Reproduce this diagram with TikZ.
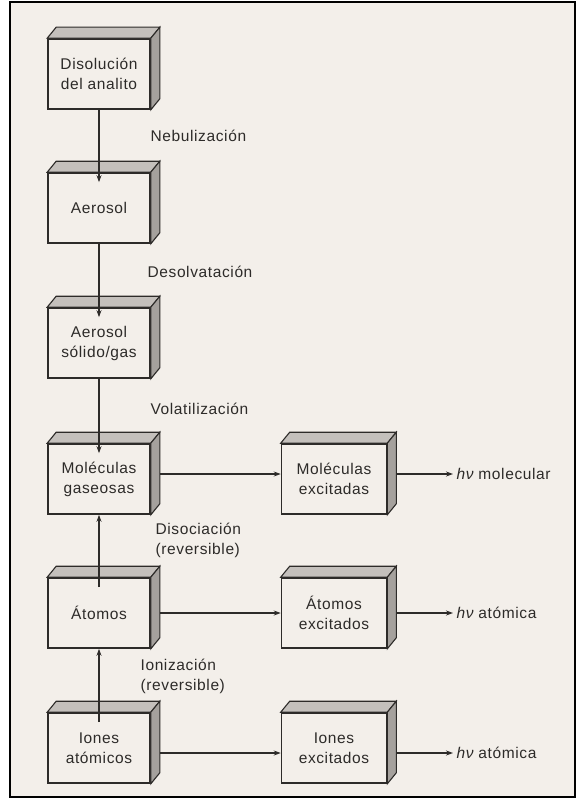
\documentclass[tikz,border=0pt]{standalone}
\usepackage{fontspec}
\setmainfont{Liberation Sans}[LetterSpace=4.0]
\usetikzlibrary{arrows.meta}
\definecolor{papel}{RGB}{243,239,234}
\definecolor{tinta}{RGB}{45,43,41}
\definecolor{cara}{RGB}{165,161,157}
\definecolor{tapa}{RGB}{196,192,188}

\begin{document}
\begin{tikzpicture}[x=1pt, y=-1pt, every node/.style={font=\fontsize{15.5}{20}\selectfont, text=tinta},
		caja/.style={draw=tinta, line width=1.6pt, fill=papel, align=center, minimum width=102pt, minimum height=70pt, inner sep=0pt},
		flecha/.style={draw=tinta, line width=1.2pt, -{Stealth[length=7pt,width=5pt]}},
		etiq/.style={align=left, inner sep=0pt}]
		\useasboundingbox (0,0) rectangle (578,800);
		\fill[white] (0,0) rectangle (578,800);
		\draw[line width=2pt, fill=papel] (10,2) rectangle (575,797);
		\node[caja] (dis) at (99,74) {Disolución\\del analito};
		\node[caja] (aer) at (99,208) {Aerosol};
		\node[caja] (sol) at (99,343) {Aerosol\\sólido/gas};
		\node[caja] (mol) at (99,479) {Moléculas\\gaseosas};
		\node[caja] (ato) at (99,613) {Átomos};
		\node[caja] (ion) at (99,748) {Iones\\atómicos};
		\node[caja, minimum width=105pt] (molex) at (334,479) {Moléculas\\excitadas};
		\node[caja, minimum width=105pt] (atoex) at (334,613) {Átomos\\excitados};
		\node[caja, minimum width=105pt] (ionex) at (334,748) {Iones\\excitados};
		\foreach \n in {dis,aer,sol,mol,ato,ion,molex,atoex,ionex} {
			\draw[draw=tinta, line width=1.1pt, fill=tapa] (\n.north west) -- ([shift={(9,-11)}]\n.north west) -- ([shift={(9,-11)}]\n.north east) -- (\n.north east) -- cycle;
			\draw[draw=tinta, line width=1.1pt, fill=cara] (\n.north east) -- ([shift={(9,-11)}]\n.north east) -- ([shift={(9,-11)}]\n.south east) -- (\n.south east) -- cycle;
		}
		\node[anchor=west] (hvmol) at (453,474) {{\itshape hν} molecular};
		\node[anchor=west] (hvato) at (453,613) {{\itshape hν} atómica};
		\node[anchor=west] (hvion) at (453,753) {{\itshape hν} atómica};
		\draw[flecha, shorten >=-10pt] (dis) -- node[etiq, right=51pt, yshift=5pt] (neb) {Nebulización} (aer);
		\draw[flecha, shorten >=-10pt] (aer) -- node[etiq, right=48pt, yshift=4pt] (des) {Desolvatación} (sol);
		\draw[flecha, shorten >=-10pt] (sol) -- node[etiq, right=51pt, yshift=2pt] (vol) {Volatilización} (mol);
		\draw[flecha, shorten <=-10pt] (ato) -- node[etiq, right=56pt, yshift=6pt] (dso) {Disociación\\(reversible)} (mol);
		\draw[flecha, shorten <=-10pt] (ion) -- node[etiq, right=41pt, yshift=4pt] (ioz) {Ionización\\(reversible)} (ato);
		\draw[flecha, shorten <=9pt] ([yshift=5pt]mol.east) -- ([yshift=5pt]molex.west);
		\draw[flecha, shorten <=9pt] (ato) -- (atoex);
		\draw[flecha, shorten <=9pt] ([yshift=-5pt]ion.east) -- ([yshift=-5pt]ionex.west);
		\draw[flecha, shorten <=9pt] ([yshift=5pt]molex.east) -- (hvmol);
		\draw[flecha, shorten <=9pt] (atoex) -- (hvato);
		\draw[flecha, shorten <=9pt] ([yshift=-5pt]ionex.east) -- (hvion);
	\end{tikzpicture}
\end{document}
